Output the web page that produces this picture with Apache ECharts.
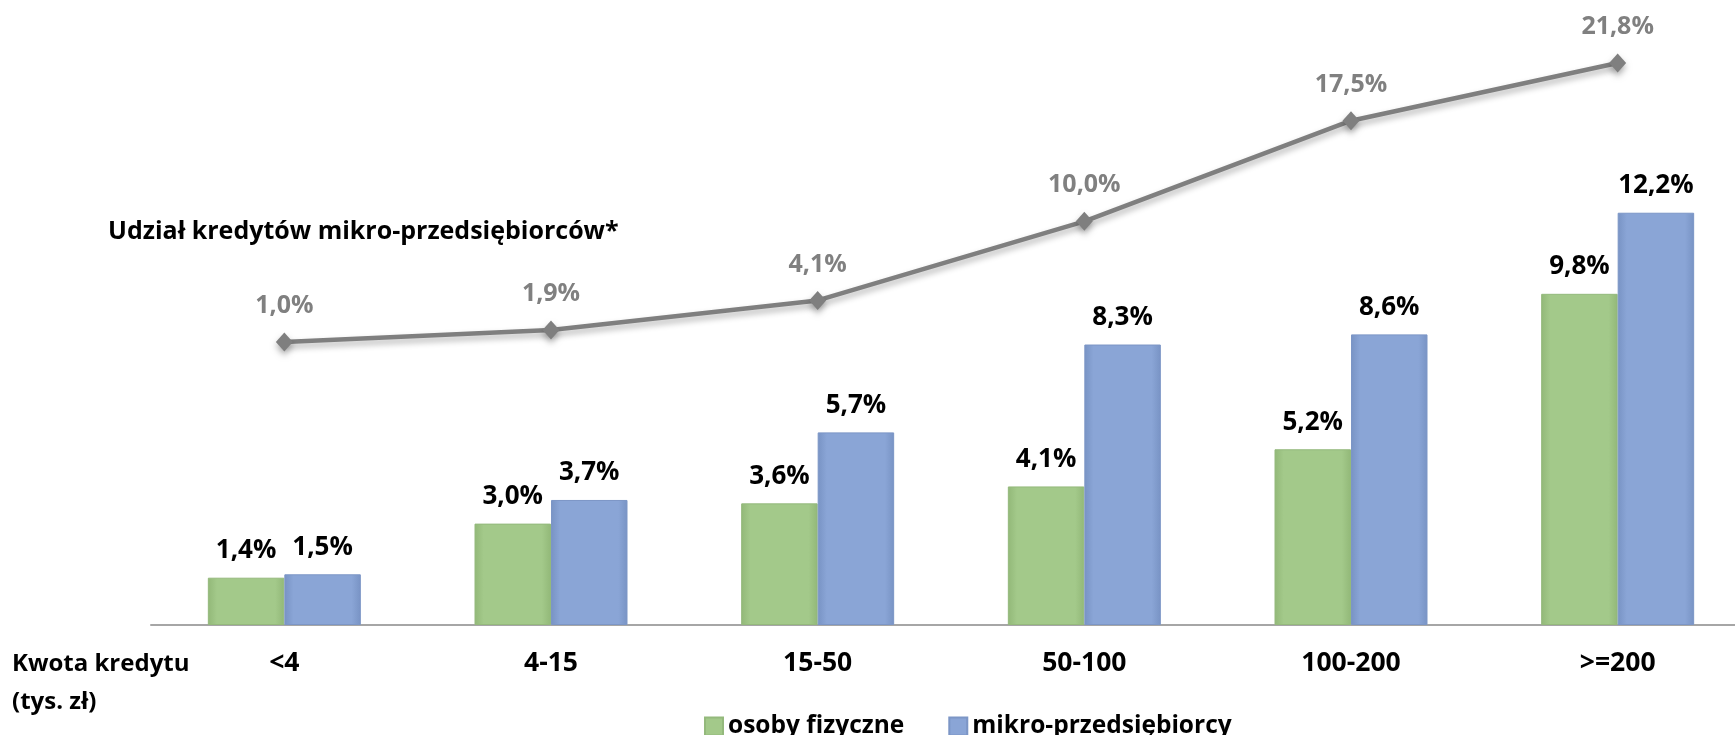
<!DOCTYPE html>
<html>
<head>
<meta charset="utf-8">
<script src="https://cdn.jsdelivr.net/npm/echarts@6/dist/echarts.min.js"></script>
<style>html,body{margin:0;padding:0;background:#fff}#c{width:1735px;height:735px}</style>
</head>
<body>
<div id="c"></div>
<script>
const categories = ['<4', '4-15', '15-50', '50-100', '100-200', '>=200'];
const osobyFizyczne = [1.4, 3.0, 3.6, 4.1, 5.2, 9.8];
const mikroPrzedsiebiorcy = [1.5, 3.7, 5.7, 8.3, 8.6, 12.2];
const udzialMikro = [1.0, 1.9, 4.1, 10.0, 17.5, 21.8];
const seriesNames = ['osoby fizyczne', 'mikro-przedsiębiorcy', 'Udział kredytów mikro-przedsiębiorców*'];

const FONT = '"Open Sans", sans-serif';
const fmt = p => p.value.toFixed(1).replace('.', ',') + '%';

function hgrad(dark, mid) {
  return new echarts.graphic.LinearGradient(0, 0, 1, 0, [
    {offset: 0, color: dark}, {offset: 0.12, color: mid},
    {offset: 0.88, color: mid}, {offset: 1, color: dark}
  ]);
}

const chart = echarts.init(document.getElementById('c'));
chart.setOption({
  animation: false,
  textStyle: {fontFamily: FONT},
  grid: {left: 151, width: 1600, top: 37, height: 588, outerBoundsMode: 'none', containLabel: false},
  legend: {
    data: [seriesNames[0], seriesNames[1]],
    left: 699, top: 709, itemWidth: 18, itemHeight: 18, itemGap: 44, icon: 'rect',
    textStyle: {fontFamily: FONT, fontWeight: 'bold', fontSize: 24.5, color: '#000'}
  },
  title: {
    text: 'Udział kredytów mikro-przedsiębiorców*', left: 103, top: 214,
    textStyle: {fontFamily: FONT, fontWeight: 'bold', fontSize: 25, color: '#000'}
  },
  graphic: [{
    type: 'text', left: 12, top: 645,
    style: {text: 'Kwota kredytu\n(tys. zł)', font: 'bold 24px "Open Sans", sans-serif', fill: '#000', lineHeight: 38}
  }],
  xAxis: {
    type: 'category', data: categories,
    axisLine: {lineStyle: {color: '#A6A6A6', width: 2}},
    axisTick: {show: false},
    axisLabel: {margin: 25, fontFamily: FONT, fontWeight: 'bold', fontSize: 26.5, color: '#000'}
  },
  yAxis: [
    {type: 'value', min: 0, max: 17.4, show: false, splitLine: {show: false}},
    {type: 'value', min: -20.1, max: 23.74, show: false, splitLine: {show: false}}
  ],
  series: [
    {
      name: seriesNames[0], type: 'bar', data: osobyFizyczne, barWidth: 76.5, barGap: '0%',
      itemStyle: {color: hgrad('#92B878', '#A3C98A'), borderColor: '#94B97C', borderWidth: 1},
      label: {show: true, position: 'top', distance: 14, formatter: fmt,
        fontFamily: FONT, fontWeight: 'bold', fontSize: 26, color: '#000'}
    },
    {
      name: seriesNames[1], type: 'bar', data: mikroPrzedsiebiorcy, barWidth: 76.5,
      itemStyle: {color: hgrad('#7893C4', '#8AA5D6'), borderColor: '#7C96C6', borderWidth: 1},
      label: {show: true, position: 'top', distance: 14, formatter: fmt,
        fontFamily: FONT, fontWeight: 'bold', fontSize: 26, color: '#000'}
    },
    {
      name: seriesNames[2], type: 'line', yAxisIndex: 1, data: udzialMikro,
      symbol: 'diamond', symbolSize: [17, 19],
      lineStyle: {color: '#7F7F7F', width: 4.5, shadowColor: 'rgba(0,0,0,0.3)', shadowBlur: 6, shadowOffsetY: 4},
      itemStyle: {color: '#7F7F7F', shadowColor: 'rgba(0,0,0,0.3)', shadowBlur: 6, shadowOffsetY: 4},
      label: {show: true, position: 'top', distance: 14, formatter: fmt,
        fontFamily: FONT, fontWeight: 'bold', fontSize: 25, color: '#808080'},
      z: 3
    }
  ]
});
</script>
</body>
</html>
